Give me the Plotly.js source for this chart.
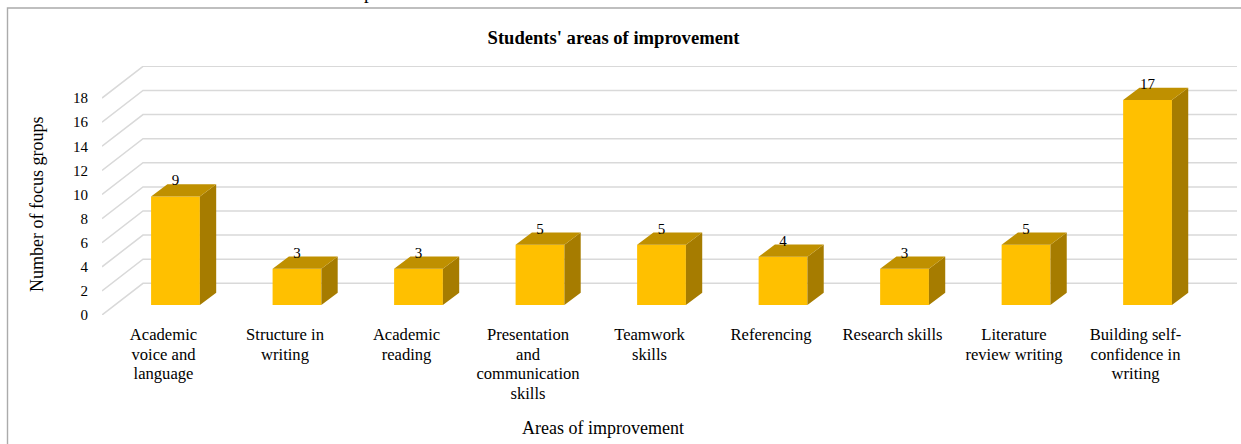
<!DOCTYPE html>
<html><head><meta charset="utf-8">
<script src="https://cdn.plot.ly/plotly-3.0.1.min.js"></script>
<style>html,body{margin:0;padding:0;background:#fff}#c{width:1241px;height:444px}</style>
</head><body><div id="c"></div>
<script>
const categories = ["Academic<br>voice and<br>language","Structure in<br>writing","Academic<br>reading","Presentation<br>and<br>communication<br>skills","Teamwork<br>skills","Referencing","Research skills","Literature<br>review writing","Building self-<br>confidence in<br>writing"];
const counts = [9,3,3,5,5,4,3,5,17];
const yTicks = [0,2,4,6,8,10,12,14,16,18];
const xTitle = "Areas of improvement";
const yTitle = "Number of focus groups";
const chartTitle = "Students' areas of improvement";

const FONT = '"Liberation Serif","Times New Roman",serif';
const W = 1241, H = 444, mL = 102, mR = 4, mT = 66, mB = 129;
const pxX = 121.5, pxY = 12.05;
const xMin = -0.506, xMax = 8.835, yMax = 20.66;
const wallDx = 41/pxX, wallDy = 31.7/pxY;
const frontDx = 12/pxX, frontDy = 10/pxY;
const sideDx = 16.3/pxX, sideDy = 12.3/pxY;
const halfW = 24.4/pxX;
const idx = categories.map((_,i)=>i);
const fx = idx.map(i=>i+frontDx);
const paperX = p => (p-mL)/(W-mL-mR);
const paperY = p => 1-(p-mT)/(H-mT-mB);

const shapes = yTicks.map(v=>({
  type:'path', layer:'below', xref:'x', yref:'y',
  path:`M${xMin},${v} L${xMin+wallDx},${v+wallDy} L${xMax},${v+wallDy}`,
  line:{color:'#D9D9D9',width:1.5}
}));
shapes.push({type:'path',xref:'paper',yref:'paper',layer:'below',
  path:`M${paperX(7.5)},${paperY(H)} L${paperX(7.5)},${paperY(8)} L${paperX(W)},${paperY(8)}`,
  line:{color:'#ABABAB',width:1.4}});

const sideX=[],sideY=[],topX=[],topY=[];
counts.forEach((v,i)=>{
  const r=fx[i]+halfW,l=fx[i]-halfW,b=frontDy,t=frontDy+v;
  sideX.push(r,r+sideDx,r+sideDx,r,r,null);
  sideY.push(b,b+sideDy,t+sideDy,t,b,null);
  topX.push(l,l+sideDx,r+sideDx,r,l,null);
  topY.push(t,t+sideDy,t+sideDy,t,t,null);
});

const data=[
 {type:'bar',x:fx,y:counts,base:fx.map(()=>frontDy),width:halfW*2,marker:{color:'#FFC000',line:{width:0}},hoverinfo:'skip'},
 {type:'scatter',mode:'lines',x:sideX,y:sideY,fill:'toself',fillcolor:'#A67C00',line:{width:0,color:'#A67C00'},hoverinfo:'skip'},
 {type:'scatter',mode:'lines',x:topX,y:topY,fill:'toself',fillcolor:'#BF9000',line:{width:0,color:'#BF9000'},hoverinfo:'skip'},
 {type:'scatter',mode:'text',x:fx,y:counts.map(v=>v+frontDy+0.62),text:counts.map(String),textposition:'top center',
  textfont:{family:FONT,size:15,color:'#000'},hoverinfo:'skip'}
];

const layout={
 width:W,height:H,showlegend:false,paper_bgcolor:'#fff',plot_bgcolor:'rgba(0,0,0,0)',
 margin:{l:mL,r:mR,t:mT,b:mB},
 title:{text:`<b>${chartTitle}</b>`,font:{family:FONT,size:18.6,color:'#000'},x:613.5/W,xanchor:'center',y:1-37/H,yanchor:'middle'},
 xaxis:{range:[xMin,xMax],tickmode:'array',tickvals:idx,ticktext:categories,tickangle:0,showgrid:false,zeroline:false,showline:false,
   ticks:'outside',ticklen:4,tickcolor:'rgba(0,0,0,0)',tickfont:{family:FONT,size:16.6,color:'#000'}},
 yaxis:{range:[0,yMax],tickmode:'array',tickvals:yTicks,ticktext:yTicks.map(String),showgrid:false,zeroline:false,showline:false,
   ticks:'outside',ticklen:10,tickcolor:'rgba(0,0,0,0)',tickfont:{family:FONT,size:15,color:'#000'}},
 shapes:shapes,
 annotations:[
  {text:xTitle,xref:'paper',yref:'paper',x:paperX(603),y:paperY(428),xanchor:'center',yanchor:'middle',showarrow:false,font:{family:FONT,size:18,color:'#000'}},
  {text:yTitle,xref:'paper',yref:'paper',x:paperX(37),y:paperY(205),xanchor:'center',yanchor:'middle',textangle:-90,showarrow:false,font:{family:FONT,size:18,color:'#000'}},
  {text:'p',xref:'paper',yref:'paper',x:paperX(369),y:paperY(-8),xanchor:'center',yanchor:'middle',showarrow:false,font:{family:FONT,size:19,color:'#000'}}
 ]
};
Plotly.newPlot('c',data,layout,{displayModeBar:false,staticPlot:true}).then(()=>{
  // reference line pitch is tighter than Plotly's fixed 1.3em
  document.querySelectorAll('.xtick tspan.line').forEach(t=>{
    const em=parseFloat(t.getAttribute('dy'));
    if(!isNaN(em)) t.setAttribute('dy',(em/1.3*1.19)+'em');
  });
});
</script></body></html>
